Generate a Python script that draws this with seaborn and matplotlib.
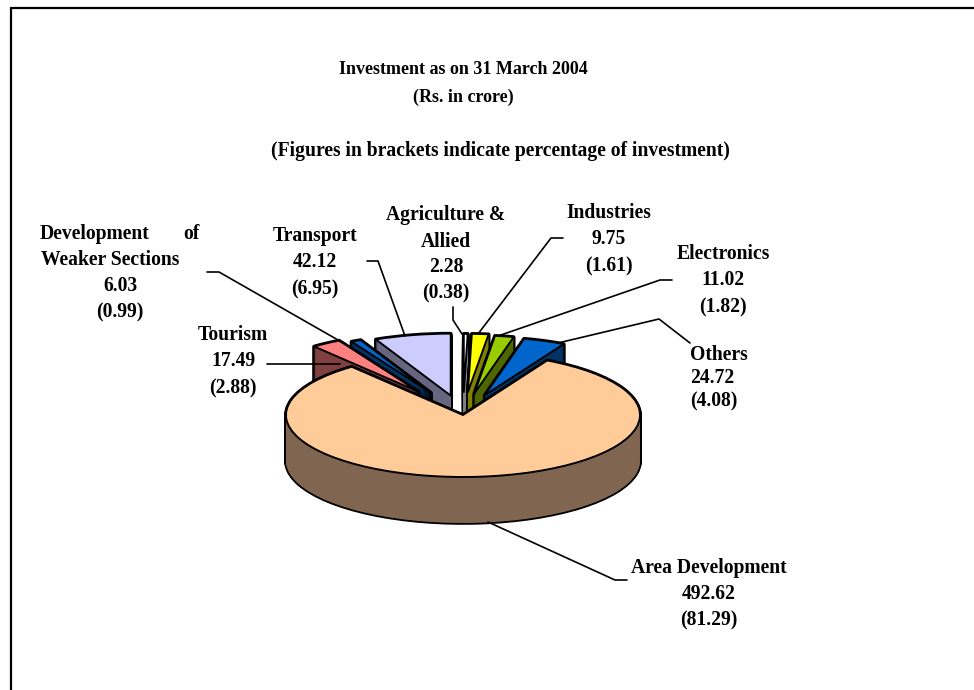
import matplotlib
matplotlib.use("Agg")
import matplotlib.pyplot as plt
import seaborn as sns

SECTORS = ["Agriculture & Allied", "Industries", "Electronics", "Others", "Area Development",
           "Tourism", "Development of Weaker Sections", "Transport"]
INVESTMENT = [2.28, 9.75, 11.02, 24.72, 492.62, 17.49, 6.03, 42.12]
PERCENT = [0.38, 1.61, 1.82, 4.08, 81.29, 2.88, 0.99, 6.95]

TOP_COLORS = ["#FFFFFF", "#FFFF00", "#99CC00", "#0066CC", "#FFCC99", "#FF8080", "#0066CC", "#CCCCFF"]
SIDE_COLORS = ["#808080", "#808000", "#4D6600", "#003366", "#806650", "#804040", "#003366", "#666680"]
EXPLODE = [0.37, 0.37, 0.35, 0.34, 0.0, 0.45, 0.40, 0.32]
RADIUS = [0.94, 0.94, 0.94, 0.94, 1.0, 0.94, 0.94, 1.0]
DRAW_ORDER = [7, 6, 5, 0, 1, 2, 3, 4]

W, H = 974, 690
CX, CY, RX, RY = 463, 415, 177, 62
DEPTH = 46
TITLE_SIZE = 13.0
LABEL_SIZE = 14.1

sns.set_theme(style="white")
plt.rcParams["font.family"] = ["Liberation Serif", "DejaVu Serif"]

fig = plt.figure(figsize=(W / 100, H / 100), dpi=100, facecolor="white")
ax = fig.add_axes([0, 0, 1, 1])


def draw_slice(i, dy, color, edge, lw):
    wedges, _ = ax.pie(
        PERCENT,
        explode=EXPLODE,
        radius=RADIUS[i],
        center=(0, dy),
        startangle=90,
        counterclock=False,
        colors=[color] * len(PERCENT),
        wedgeprops={"edgecolor": edge, "linewidth": lw, "joinstyle": "round"},
    )
    for j, w in enumerate(wedges):
        if j != i:
            w.remove()


for i in DRAW_ORDER:
    # silhouette first, then the side fill, then the top face
    for d in range(DEPTH, -1, -1):
        draw_slice(i, -d / RY, "black", "black", 2.6)
    for d in range(DEPTH, -1, -1):
        draw_slice(i, -d / RY, SIDE_COLORS[i], "none", 0)
    draw_slice(i, 0, TOP_COLORS[i], "black", 1.4)

ax.set_aspect("auto")
ax.set_xlim(-CX / RX, (W - CX) / RX)
ax.set_ylim(-(H - CY) / RY, CY / RY)
ax.axis("off")

# overlay in picture coordinates for frame, leaders and labels
ov = fig.add_axes([0, 0, 1, 1], facecolor="none")
ov.set_xlim(0, W)
ov.set_ylim(H, 0)
ov.axis("off")

ov.plot([11, 11, W], [H, 8, 8], color="black", lw=1.6, solid_joinstyle="miter")

LEADERS = [
    ([563, 551, 478], [238, 238, 334]),
    ([672, 660, 498], [280, 280, 336]),
    ([690, 659, 558], [343, 319, 343]),
    ([453, 453, 462], [307, 320, 334]),
    ([207, 219, 345], [272, 272, 344]),
    ([367, 378, 405], [261, 261, 336]),
    ([267, 340], [364, 364]),
    ([488, 615, 627], [522, 580, 580]),
]
for xs, ys in LEADERS:
    ov.plot(xs, ys, color="black", lw=1.2)


def label(x, y, text, ha="center", size=LABEL_SIZE):
    ov.text(x, y + 1, text, ha=ha, va="center", fontsize=size, fontweight="bold", color="black")


label(463, 69, "Investment as on 31 March 2004", size=TITLE_SIZE)
label(463, 96, "(Rs. in crore)", size=TITLE_SIZE)
label(500, 150, "(Figures in brackets indicate percentage of investment)")

label(446, 214, "Agriculture &")
label(446, 241, "Allied")
label(446, 266, f"{INVESTMENT[0]:.2f}")
label(446, 292, f"({PERCENT[0]:.2f})")

label(609, 212, "Industries")
label(609, 238, f"{INVESTMENT[1]:.2f}")
label(609, 265, f"({PERCENT[1]:.2f})")

label(723, 253, "Electronics")
label(723, 279, f"{INVESTMENT[2]:.2f}")
label(723, 306, f"({PERCENT[2]:.2f})")

label(690, 354, "Others", ha="left")
label(690, 377, f"{INVESTMENT[3]:.2f}", ha="left")
label(690, 400, f"({PERCENT[3]:.2f})", ha="left")

label(709, 567, "Area Development")
label(709, 593, f"{INVESTMENT[4]:.2f}")
label(709, 619, f"({PERCENT[4]:.2f})")

label(233, 334, "Tourism")
label(233, 360, f"{INVESTMENT[5]:.2f}")
label(233, 387, f"({PERCENT[5]:.2f})")

label(40, 233, "Development", ha="left")
label(200, 233, "of", ha="right")
label(110, 259, "Weaker Sections")
label(120, 285, f"{INVESTMENT[6]:.2f}")
label(120, 311, f"({PERCENT[6]:.2f})")

label(315, 235, "Transport")
label(315, 261, f"{INVESTMENT[7]:.2f}")
label(315, 288, f"({PERCENT[7]:.2f})")

fig.savefig("out.png", dpi=100)
